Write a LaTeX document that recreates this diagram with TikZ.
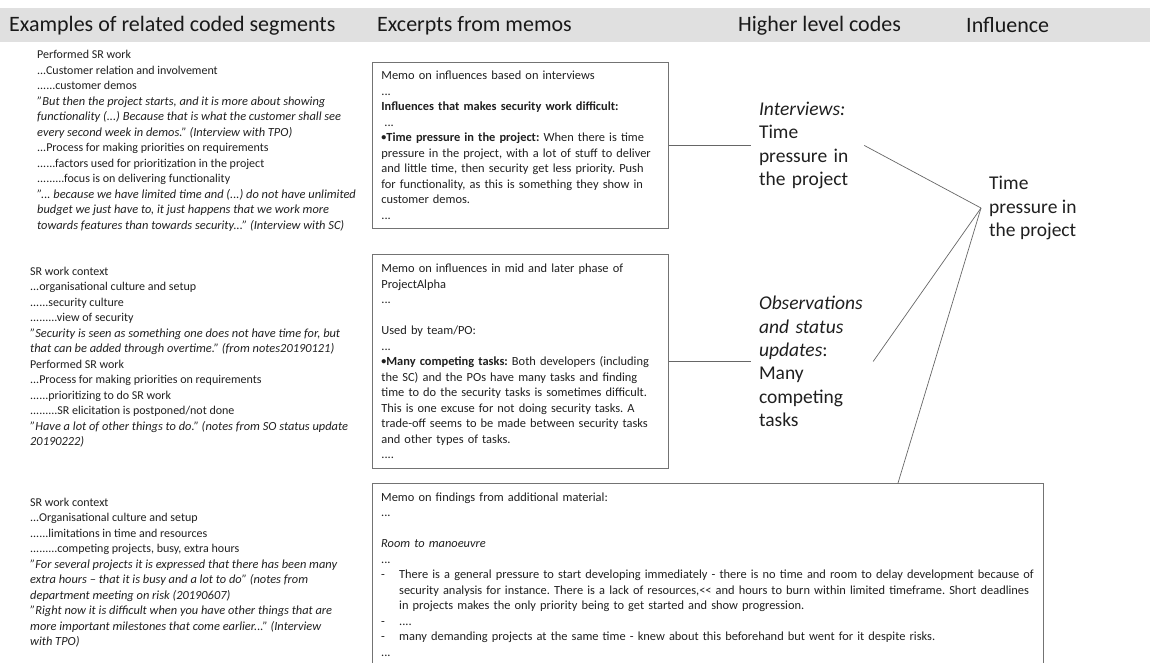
\documentclass[tikz,border=0pt]{standalone}
\usepackage{fontspec}
\setmainfont{Carlito}
\frenchspacing
\newcommand\qi[1]{{\fontsize{12.4}{15.5}\selectfont\itshape #1}}
\newcommand\smbul{{\fontsize{10}{10}\selectfont\raisebox{1.2pt}{•}}}
\tikzset{
  txt/.style={anchor=base west, inner sep=0pt, align=left, font=\fontsize{12}{15.5}\selectfont\frenchspacing, text=black!88},
  memo/.style={draw=black!55, line width=0.8pt, anchor=north west, align=left, inner xsep=9pt, font=\fontsize{12.4}{15.5}\selectfont\frenchspacing, text=black!88},
  memotext/.style={anchor=north west, align=left, inner xsep=9pt, font=\fontsize{12.4}{15.5}\selectfont\frenchspacing, text=black!88},
  boxline/.style={draw=black!55, line width=0.8pt},
  code/.style={anchor=west, align=left, inner sep=8pt, font=\fontsize{19.5}{23.4}\selectfont, text=black!88},
  head/.style={anchor=west, inner sep=0pt, font=\fontsize{22}{26}\selectfont, text=black!90},
  link/.style={draw=black!60, line width=0.7pt},
}
\begin{document}
\begin{tikzpicture}[x=1pt, y=-1pt]
\useasboundingbox (0,0) rectangle (1150,662);
\fill[black!12] (0,8) rectangle (1150,42);
\node[head] (hA) at (9,25.5) {Examples of related coded segments};
\node[head] (hB) at (377,25.5) {Excerpts from memos};
\node[head] (hC) at (738,25.5) {Higher level codes};
\node[head] (hD) at (966,25.5) {Influence};

\node[txt] (c1) at (37,229) {Performed SR work\\
...Customer relation and involvement\\
......customer demos\\
\qi{"But then the project starts, and it is more about showing}\\
\qi{functionality (...) Because that is what the customer shall see}\\
\qi{every second week in demos." (Interview with TPO)}\\
...Process for making priorities on requirements\\
......factors used for prioritization in the project\\
.........focus is on delivering functionality\\
\qi{"... because we have limited time and (...) do not have unlimited}\\
\qi{budget we just have to, it just happens that we work more}\\
\qi{towards features than towards security..." (Interview with SC)}};

\node[txt] (c2) at (30,445.5) {SR work context\\
...organisational culture and setup\\
......security culture\\
.........view of security\\
\qi{"Security is seen as something one does not have time for, but}\\
\qi{that can be added through overtime." (from notes20190121)}\\
Performed SR work\\
...Process for making priorities on requirements\\
......prioritizing to do SR work\\
.........SR elicitation is postponed/not done\\
\qi{"Have a lot of other things to do." (notes from SO status update}\\
\qi{20190222)}};

\node[txt] (c3) at (30,645.5) {SR work context\\
...Organisational culture and setup\\
......limitations in time and resources\\
.........competing projects, busy, extra hours\\
\qi{"For several projects it is expressed that there has been many}\\
\qi{extra hours -- that it is busy and a lot to do" (notes from}\\
\qi{department meeting on risk (20190607)}\\
\qi{"Right now it is difficult when you have other things that are}\\
\qi{more important milestones that come earlier..." (Interview}\\
\qi{with TPO)}};

\node[memo, text width=278pt, minimum width=296pt, minimum height=166pt] (m1) at (372,62) {Memo on influences based on interviews\\
...\\
\textbf{Influences that makes security work difficult:}\\
\hspace*{3pt}...\\
\textbf{\smbul Time pressure in the project:} When there is time\\
pressure in the project, with a lot of stuff to deliver\\
and little time, then security get less priority. Push\\
for functionality, as this is something they show in\\
customer demos.\\
...};

\node[memo, text width=278pt, minimum width=296pt, minimum height=214pt] (m2) at (372,254) {Memo on influences in mid and later phase of\\
ProjectAlpha\\
...\\
~\\
Used by team/PO:\\
...\\
\textbf{\smbul Many competing tasks:} Both developers (including\\
the SC) and the POs have many tasks and finding\\
time to do the security tasks is sometimes difficult.\\
This is one excuse for not doing security tasks. A\\
trade-off seems to be made between security tasks\\
and other types of tasks.\\
....};

\node[memotext, text width=653pt, inner ysep=9.5pt] (m3) at (372,483) {Memo on findings from additional material:\\
...\\
~\\
\textit{Room to manoeuvre}\\
...\\
\makebox[18pt][l]{-}There is a general pressure to start developing immediately - there is no time and room to delay development because of\\
\hspace*{18pt}security analysis for instance. There is a lack of resources,{<}{<} and hours to burn within limited timeframe. Short deadlines\\
\hspace*{18pt}in projects makes the only priority being to get started and show progression.\\
\makebox[18pt][l]{-}....\\
\makebox[18pt][l]{-}many demanding projects at the same time - knew about this beforehand but went for it despite risks.\\
...};
\draw[boxline] ([yshift=-20pt]m3.south west) -- (m3.north west) -- (m3.north east) -- ([yshift=-20pt]m3.south east);

\node[code, text width=97pt] (h1) at ([xshift=82pt]m1.east) {\textit{Interviews:}\\ Time\\ pressure in\\ the project};
\node[code, text width=106pt] (h2) at ([xshift=82pt]m2.east) {\textit{Observations}\\ \textit{and status}\\ \textit{updates}:\\ Many\\ competing\\ tasks};
\node[code] (inf) at (981,208) {Time\\ pressure in\\ the project};

\draw[link] (m1.east) -- (h1.west);
\draw[link] (m2.east) -- (h2.west);
\draw[link] (h1.east) -- (inf.west);
\draw[link] (h2.east) -- (inf.west);
\draw[link] ([xshift=526pt]m3.north west) -- (inf.west);
\end{tikzpicture}
\end{document}
